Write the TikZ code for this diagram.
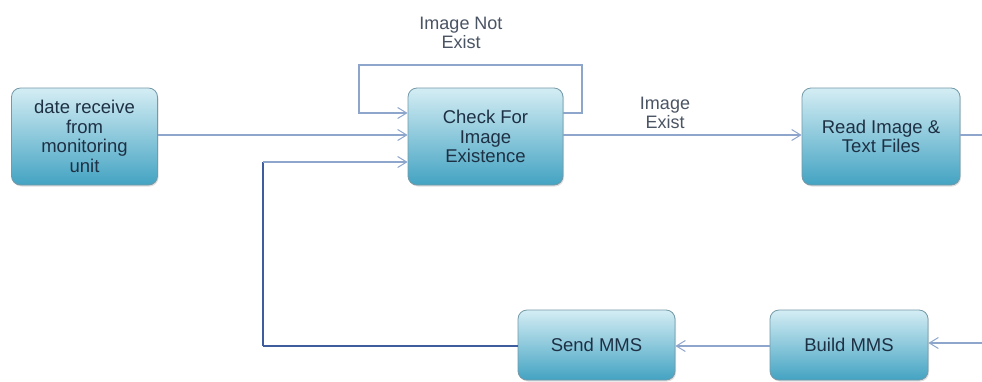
\documentclass[tikz,border=0pt]{standalone}
\usepackage{fontspec}
\setmainfont{Liberation Sans}
\usetikzlibrary{arrows.meta,shadows}
\definecolor{boxtop}{HTML}{D4EDF4}
\definecolor{boxbot}{HTML}{43A3C2}
\definecolor{boxedge}{HTML}{7499A8}
\definecolor{txt}{HTML}{1E3044}
\definecolor{lbltxt}{HTML}{4A5463}
\definecolor{flow}{HTML}{8FA6CC}
\definecolor{back}{HTML}{3F5C9C}
\tikzset{
  procbox/.style={draw=boxedge, line width=0.8pt, rounded corners=9pt,
    top color=boxtop, bottom color=boxbot, align=center, text=txt,
    font=\fontsize{18.5}{19.5}\selectfont, inner sep=2pt,
    drop shadow={shadow xshift=1pt, shadow yshift=-1.5pt, opacity=0.25}},
  flowline/.style={draw=flow, line width=1.1pt},
  backline/.style={draw=back, line width=1.3pt},
  opentip/.style={-{Straight Barb[length=9pt, width=11pt, line width=1pt]}},
  lbl/.style={text=lbltxt, align=center, font=\fontsize{18}{19.5}\selectfont}
}
\begin{document}
\begin{tikzpicture}[x=1pt, y=-1pt]
\useasboundingbox (0,0) rectangle (982,381);
\fill[white] (0,0) rectangle (982,381);

% process boxes
\node[procbox, minimum width=146pt, minimum height=97pt] (recv) at (84.5,136.5)
  {date receive\\from\\monitoring\\unit};
\node[procbox, minimum width=155pt, minimum height=97pt] (check) at (485.5,136.5)
  {Check For\\Image\\Existence};
\node[procbox, minimum width=158pt, minimum height=97pt] (read) at (881,136.5)
  {Read Image \&\\Text Files};
\node[procbox, minimum width=157pt, minimum height=70pt] (send) at (596.5,345)
  {Send MMS};
\node[procbox, minimum width=158pt, minimum height=70pt] (build) at (849,345)
  {Build MMS};

% helper levels and corners
\coordinate (yloop) at (0,113);
\coordinate (ymid)  at (0,135);
\coordinate (yret)  at (0,162);
\coordinate (ybot)  at (0,346);
\coordinate (loopTR) at (582,65);
\coordinate (loopTL) at (359,65);
\coordinate (retC)   at (263,346);
\coordinate (outR)   at (982,135);
\coordinate (inR)    at (982,343);

% labels
\node[lbl] (notexist) at (461,33) {Image Not\\Exist};
\node[lbl] (exist) at (665,113) {Image\\Exist};

% "image not exist" loop
\draw[flowline, opentip] (check.east |- yloop) -- (loopTR |- yloop) -- (loopTR)
  -- (loopTL) -- (loopTL |- yloop) -- (check.west |- yloop);

% data in
\draw[flowline, opentip] (recv.east |- ymid) -- (check.west |- ymid);

% image exists
\draw[flowline, opentip] (check.east |- ymid) -- (read.west |- ymid);
\draw[flowline] (read.east |- ymid) -- (outR);

% bottom chain
\draw[flowline, opentip] (inR) -- (build.east |- inR);
\draw[flowline, opentip] (build.west |- ybot) -- (send.east |- ybot);
\draw[backline] (send.west |- ybot) -- (retC);
\draw[backline] (retC) -- (retC |- yret);
\draw[flowline, opentip] (retC |- yret) -- (check.west |- yret);
\end{tikzpicture}
\end{document}
